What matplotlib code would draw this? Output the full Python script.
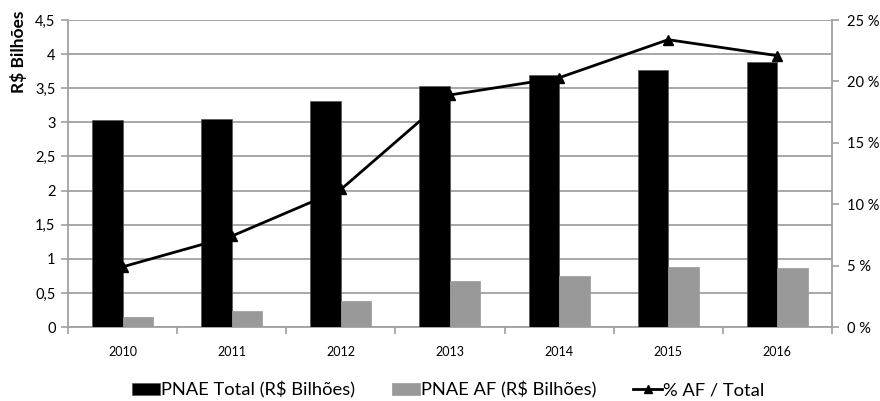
import matplotlib.pyplot as plt
import numpy as np
from matplotlib.ticker import FuncFormatter

plt.rcParams['font.family'] = ['Lato', 'DejaVu Sans']

years = ['2010', '2011', '2012', '2013', '2014', '2015', '2016']
pnae_total = [3.03, 3.05, 3.31, 3.53, 3.70, 3.77, 3.88]
pnae_af = [0.15, 0.23, 0.38, 0.67, 0.75, 0.88, 0.86]
pct_af = [4.9, 7.4, 11.2, 18.9, 20.3, 23.4, 22.1]

fig = plt.figure(figsize=(8.8, 4.01), dpi=100)
ax = fig.add_axes([0.0773, 0.1845, 0.868, 0.7655])
ax2 = ax.twinx()

x = np.arange(len(years))
w = 0.28
grid_c = '#a0a0a0'

ax.bar(x - w / 2, pnae_total, w, color='black', edgecolor='#555555', linewidth=0.5,
       label='PNAE Total (R$ Bilhões)', zorder=3)
ax.bar(x + w / 2, pnae_af, w, color='#999999', edgecolor='#999999', linewidth=0.5,
       label='PNAE AF (R$ Bilhões)', zorder=3)

ax.set_xlim(-0.5, len(years) - 0.5)
ax.set_ylim(0, 4.5)
ax.set_yticks(np.arange(0, 4.51, 0.5))
ax.yaxis.set_major_formatter(FuncFormatter(lambda v, p: ('%g' % v).replace('.', ',')))
ax.yaxis.grid(True, color=grid_c, linewidth=1.3, zorder=0)
ax.set_axisbelow(True)

ax.set_xticks(x)
ax.set_xticklabels(years, fontsize=9)
ax.set_xticks(np.arange(-0.5, len(years)), minor=True)
ax.tick_params(axis='x', which='major', length=0, pad=14)
ax.tick_params(axis='x', which='minor', length=5, color=grid_c, width=1.2)
ax.tick_params(axis='y', length=5, color=grid_c, width=1.2, labelsize=10.5, pad=4)

ax.set_ylabel('R$ Bilhões', fontsize=12.5, fontweight='bold')
ax.yaxis.set_label_coords(-0.054, 0.895)

ax2.plot(x, pct_af, color='black', linewidth=2, marker='^', markersize=7,
         label='% AF / Total', zorder=5)
ax2.set_ylim(0, 25)
ax2.set_yticks(np.arange(0, 26, 5))
ax2.yaxis.set_major_formatter(FuncFormatter(lambda v, p: '%d %%' % v))
ax2.tick_params(axis='y', length=5, color=grid_c, width=1.2, labelsize=10.5, pad=6)

for a in (ax, ax2):
    a.spines['top'].set_visible(False)
    for s in ('left', 'right', 'bottom'):
        a.spines[s].set_color(grid_c)
        a.spines[s].set_linewidth(1.3)
ax2.spines['left'].set_visible(False)
ax2.spines['bottom'].set_visible(False)
ax.spines['right'].set_visible(False)

h1, l1 = ax.get_legend_handles_labels()
h2, l2 = ax2.get_legend_handles_labels()
fig.legend(h1 + h2, l1 + l2, loc='center', bbox_to_anchor=(0.509, 0.028), ncol=3,
           frameon=False, fontsize=13.2, handlelength=1.55, handleheight=0.6,
           handletextpad=0.05, columnspacing=2.0, markerscale=0.8)

fig.savefig('out.png', dpi=100)
